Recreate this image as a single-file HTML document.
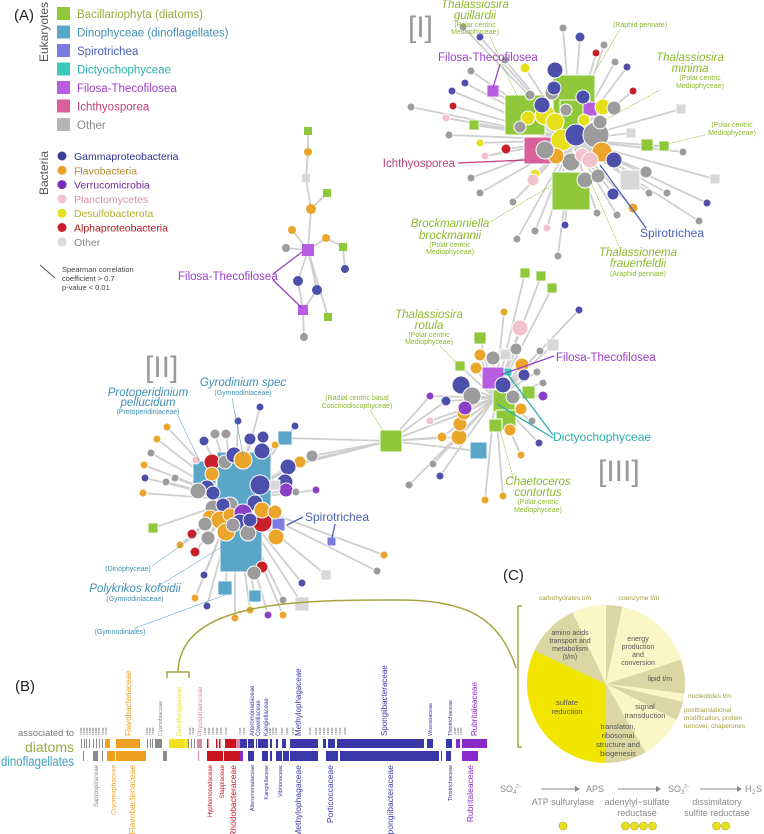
<!DOCTYPE html>
<html><head><meta charset="utf-8">
<style>
html,body{margin:0;padding:0;background:#fff;}
svg{display:block;font-family:"Liberation Sans",sans-serif;}
</style></head>
<body>
<svg id="fig" width="764" height="834" viewBox="0 0 764 834" xmlns="http://www.w3.org/2000/svg">
<g id="edges"></g>
<g id="hubs"></g>
<g id="nodes"></g>
<g id="annot"></g>
<g id="panelB"></g>
<g id="panelC"></g>
</svg>
<script>
const NS="http://www.w3.org/2000/svg";
const C={n:"#4d50aa",o:"#eba52b",p:"#8b3fc8",g:"#9c9c9c",k:"#f3c2cc",y:"#e6e01c",r:"#c8202a",l:"#d6d6d6",
G:"#8fc83a",B:"#5aa6c8",S:"#7b7be0",D:"#3cc8b8",F:"#b75ee0",I:"#d9609a",L:"#d8d8d8"};
function el(tag,attrs,parent){const e=document.createElementNS(NS,tag);for(const k in attrs)e.setAttribute(k,attrs[k]);parent.appendChild(e);return e;}
const E=document.getElementById('edges'),H=document.getElementById('hubs'),N=document.getElementById('nodes'),A=document.getElementById('annot');

const net1Center=[572,140];
const net1Leaves=[[463,27,4,'g'],[480,37,4,'n'],[563,28,4,'g'],[580,37,5,'n'],[604,45,4,'g'],[596,53,4,'r'],[615,62,4,'g'],[627,67,4,'n'],[525,68,5,'y'],[471,71,4,'g'],[465,83,4,'n'],[452,91,4,'n'],[411,107,4,'g'],[453,106,4,'r'],[446,118,4,'k'],[474,125,5,'G'],[449,135,4,'g'],[633,91,4,'r'],[681,109,5,'L'],[631,133,5,'L'],[647,145,6,'G'],[664,146,5,'G'],[683,152,4,'g'],[480,143,4,'y'],[506,149,5,'r'],[485,156,4,'k'],[471,178,4,'g'],[480,193,4,'g'],[535,174,5,'y'],[513,202,4,'g'],[535,231,4,'g'],[547,228,4,'k'],[565,225,4,'n'],[517,239,4,'g'],[558,256,4,'g'],[597,213,4,'g'],[617,215,4,'g'],[633,208,5,'o'],[613,194,6,'n'],[649,193,4,'g'],[667,193,4,'g'],[707,203,4,'n'],[699,221,4,'g'],[715,179,5,'L'],[646,172,6,'g'],[493,91,6,'F'],[530,95,5,'g'],[505,60,4,'g']];
const net1Hubs=[[505,95,40,'G'],[553,75,42,'G'],[560,100,30,'G'],[524,137,27,'I'],[552,172,38,'G'],[583,102,14,'F'],[620,170,20,'L']];
const net1Nodes=[[545,115,10,'y'],[555,122,9,'y'],[562,140,11,'y'],[576,135,11,'n'],[596,135,13,'g'],[602,152,10,'o'],[614,160,8,'n'],[571,162,9,'g'],[582,155,7,'k'],[556,156,8,'o'],[545,150,9,'g'],[542,105,8,'n'],[552,93,7,'g'],[583,97,7,'n'],[603,107,8,'y'],[614,108,7,'g'],[584,120,6,'y'],[600,122,7,'g'],[533,180,6,'k'],[585,180,8,'g'],[598,176,7,'g'],[554,88,7,'n'],[555,70,8,'n'],[528,118,7,'y'],[520,127,6,'g'],[590,160,8,'k'],[566,110,6,'g']];

const net2Center=[235,500];
const net2Leaves=[[167,427,4,'o'],[157,439,4,'o'],[151,453,4,'g'],[144,465,4,'o'],[145,478,4,'n'],[166,482,4,'g'],[143,493,4,'o'],[153,528,5,'G'],[192,534,5,'r'],[180,545,4,'o'],[195,552,5,'r'],[204,575,4,'n'],[195,598,4,'o'],[207,606,4,'n'],[260,407,4,'n'],[238,421,4,'n'],[215,434,5,'g'],[226,434,5,'g'],[204,441,5,'n'],[250,439,6,'n'],[263,437,6,'n'],[295,426,4,'n'],[285,438,7,'B'],[275,445,4,'o'],[312,456,6,'g'],[300,462,6,'o'],[288,467,8,'n'],[285,482,8,'n'],[286,490,7,'p'],[296,492,4,'g'],[316,490,4,'p'],[275,485,5,'L'],[326,575,5,'L'],[302,583,4,'n'],[283,600,4,'g'],[302,604,7,'L'],[283,615,4,'o'],[268,615,4,'p'],[225,588,7,'B'],[255,596,6,'B'],[235,618,4,'o'],[175,478,4,'g'],[196,460,4,'k'],[250,610,4,'o']];
const net2Hubs=[[217,452,54,'B'],[193,461,23,'B'],[220,530,42,'B'],[272,518,13,'S'],[327,537,9,'S']];
const net2Nodes=[[212,462,8,'r'],[225,462,7,'g'],[212,474,7,'o'],[207,488,8,'n'],[198,491,8,'g'],[234,455,8,'n'],[243,460,9,'o'],[262,451,8,'n'],[260,485,10,'n'],[255,503,8,'n'],[213,508,8,'g'],[230,505,8,'g'],[223,505,7,'n'],[210,518,8,'o'],[220,520,9,'o'],[230,515,7,'o'],[243,513,9,'p'],[240,522,8,'n'],[252,524,8,'n'],[262,522,10,'r'],[262,510,8,'o'],[275,512,7,'o'],[205,524,7,'g'],[208,538,7,'g'],[226,532,9,'o'],[233,525,7,'g'],[248,533,8,'g'],[250,520,7,'n'],[276,537,8,'o'],[262,567,6,'r'],[254,573,7,'g'],[384,555,4,'o'],[377,571,4,'g'],[213,493,7,'n']];

const net3Center=[495,398];
const net3Leaves=[[430,396,4,'p'],[446,401,5,'n'],[430,421,4,'k'],[442,437,5,'o'],[459,437,8,'o'],[460,424,7,'o'],[464,413,7,'o'],[433,464,4,'g'],[440,476,4,'n'],[409,485,4,'g'],[485,500,4,'o'],[503,496,4,'o'],[532,421,4,'g'],[539,443,4,'n'],[521,455,4,'o'],[525,273,5,'G'],[541,276,5,'G'],[552,288,5,'G'],[504,312,4,'o'],[579,310,4,'n'],[520,328,8,'k'],[553,345,6,'L'],[540,351,4,'g'],[480,338,6,'G'],[543,383,4,'g'],[543,396,5,'p'],[521,409,6,'o'],[510,430,6,'o'],[537,372,4,'g']];
const net3Hubs=[[482,367,22,'F'],[493,390,22,'G'],[496,410,20,'G'],[489,419,13,'G'],[470,442,17,'B'],[522,386,13,'G'],[500,349,11,'L'],[504,368,8,'D'],[380,430,22,'G']];
const net3Nodes=[[516,349,6,'g'],[480,355,6,'o'],[493,358,7,'g'],[476,368,6,'o'],[522,365,7,'o'],[524,375,6,'n'],[461,385,9,'n'],[472,396,9,'g'],[503,385,8,'n'],[513,397,7,'g'],[465,408,7,'p'],[460,366,5,'G']];

function drawNet(center,leaves,hubs,nodes,name){
  const gE=el('g',{},E);
  leaves.concat(nodes).forEach(d=>{
    el('line',{x1:d[0],y1:d[1],x2:center[0],y2:center[1],stroke:"#cfcfcf","stroke-width":1.8},gE);
  });
  hubs.forEach(h=>{
    const r=el('rect',{x:h[0],y:h[1],width:h[2],height:h[2],fill:C[h[3]],stroke:"#fff","stroke-width":1},H);
    
    
  });
  leaves.concat(nodes).forEach(d=>{
    let m;
    if(d[3]===d[3].toUpperCase()){
      m=el('rect',{x:d[0]-d[2],y:d[1]-d[2],width:2*d[2],height:2*d[2],fill:C[d[3]],stroke:"#fff","stroke-width":0.8},N);
    } else {
      m=el('circle',{cx:d[0],cy:d[1],r:d[2],fill:C[d[3]],stroke:"#fff","stroke-width":1},N);
    }
    
    
  });
}
[[300,462],[312,456],[288,467],[285,438]].forEach(p=>el('line',{x1:p[0],y1:p[1],x2:390,y2:441,stroke:"#cfcfcf","stroke-width":1.8},E));
[[430,396],[446,401],[442,437],[459,437],[464,413],[470,450]].forEach(p=>el('line',{x1:390,y1:441,x2:p[0],y2:p[1],stroke:"#cfcfcf","stroke-width":1.8},E));
drawNet(net1Center,net1Leaves,net1Hubs,net1Nodes,'network-1');
drawNet(net2Center,net2Leaves,net2Hubs,net2Nodes,'network-2');
drawNet(net3Center,net3Leaves,net3Hubs,net3Nodes,'network-3');

const smallNodes=[[308,131,4,'G'],[308,152,4,'o'],[306,178,4,'L'],[327,193,4,'G'],[311,209,5,'o'],[292,230,4,'o'],[326,238,4,'o'],[286,248,4,'g'],[308,250,6,'F'],[343,247,4,'G'],[345,269,4,'n'],[298,281,5,'n'],[317,290,5,'n'],[303,310,5,'F'],[328,317,4,'G'],[304,337,4,'g']];
const smallLinks=[[0,1],[1,2],[2,4],[3,4],[4,8],[8,5],[8,7],[8,6],[6,9],[9,10],[8,11],[8,12],[11,13],[12,13],[8,14],[13,15]];
smallLinks.forEach(l=>{const a=smallNodes[l[0]],b=smallNodes[l[1]];el('line',{x1:a[0],y1:a[1],x2:b[0],y2:b[1],stroke:"#cfcfcf","stroke-width":1.8},E);});
smallNodes.forEach(d=>{
  let m;
  if(d[3]===d[3].toUpperCase()) m=el('rect',{x:d[0]-d[2],y:d[1]-d[2],width:2*d[2],height:2*d[2],fill:C[d[3]]},N);
  else m=el('circle',{cx:d[0],cy:d[1],r:d[2],fill:C[d[3]]},N);
  
  
});
</script>

<script>
(function(){
const A=document.getElementById('annot');
const NS="http://www.w3.org/2000/svg";
function t(x,y,s,size,fill,opts){const e=document.createElementNS(NS,'text');e.setAttribute('x',x);e.setAttribute('y',y);e.setAttribute('font-size',size);e.setAttribute('fill',fill);
 if(opts){for(const k in opts)e.setAttribute(k,opts[k]);}e.textContent=s;A.appendChild(e);return e;}
function ln(x1,y1,x2,y2,c,w,dash){const e=document.createElementNS(NS,'line');e.setAttribute('x1',x1);e.setAttribute('y1',y1);e.setAttribute('x2',x2);e.setAttribute('y2',y2);e.setAttribute('stroke',c);e.setAttribute('stroke-width',w||1);if(dash)e.setAttribute('stroke-dasharray',dash);A.appendChild(e);return e;}
function r(x,y,w,h,f){const e=document.createElementNS(NS,'rect');e.setAttribute('x',x);e.setAttribute('y',y);e.setAttribute('width',w);e.setAttribute('height',h);e.setAttribute('fill',f);A.appendChild(e);return e;}
function c(x,y,rr,f){const e=document.createElementNS(NS,'circle');e.setAttribute('cx',x);e.setAttribute('cy',y);e.setAttribute('r',rr);e.setAttribute('fill',f);A.appendChild(e);return e;}
t(14,20,"(A)",15,"#222");
t(0,0,"Eukaryotes",12,"#555",{transform:"translate(48,62) rotate(-90)"});
const eu=[["Bacillariophyta (diatoms)","#8fc83a","#9aaa40"],["Dinophyceae (dinoflagellates)","#5aa6c8","#3f8fb5"],["Spirotrichea","#7b7be0","#4a5fb8"],["Dictyochophyceae","#3cc8b8","#2ab0a8"],["Filosa-Thecofilosea","#b75ee0","#9a40c8"],["Ichthyosporea","#d9609a","#c0407a"],["Other","#b5b5b5","#888"]];
eu.forEach((d,i)=>{const y=14+i*18.5;const s=r(57,y-7,13,13,d[1]);
 const tx=t(77,y+4,d[0],11.5,d[2]);});
t(0,0,"Bacteria",12,"#555",{transform:"translate(48,195) rotate(-90)"});
const ba=[["Gammaproteobacteria","#3b3f95","#2e3290"],["Flavobacteria","#e9a12a","#b58a30"],["Verrucomicrobia","#7a2ab8","#6a2a9a"],["Planctomycetes","#f3c2cc","#d890a8"],["Desulfobacterota","#e6e01c","#b5b030"],["Alphaproteobacteria","#c8202a","#b01820"],["Other","#dadada","#888"]];
ba.forEach((d,i)=>{const y=156+i*14.3;const s=c(62,y,4.5,d[1]);
 const tx=t(74,y+4,d[0],10.5,d[2]);});
ln(40,265,55,278,"#555",1);
t(62,272,"Spearman correlation",7.5,"#444");t(62,281,"coefficient > 0.7",7.5,"#444");t(62,290,"p-value < 0.01",7.5,"#444");

t(408,37,"[I]",30,"#999");
t(145,377,"[II]",30,"#999");
t(598,481,"[III]",30,"#999");
const G="#8db82c",Bl="#3f8fb5";
const mid={"text-anchor":"middle"}, it={"text-anchor":"middle","font-style":"italic"};
t(475,8,"Thalassiosira",11.5,G,it);t(475,19,"guillardii",11.5,G,it);t(475,27,"(Polar centric",7,G,mid);t(475,34,"Mediophyceae)",7,G,mid);
ln(490,37,517,96,G,0.7,"1.5,1");
t(640,27,"(Raphid pennate)",7,G,mid);ln(620,29,596,70,G,0.7,"1.5,1");
t(438,61,"Filosa-Thecofilosea",11.5,"#9a40c8");ln(500,64,493,88,"#9a40c8",1.3);
t(690,61,"Thalassiosira",11.5,G,it);t(690,72,"minima",11.5,G,it);t(700,80,"(Polar centric",7,G,mid);t(700,88,"Mediophyceae)",7,G,mid);ln(660,90,605,120,G,0.7,"1.5,1");
t(732,127,"(Polar centric",7,G,mid);t(732,135,"Mediophyceae)",7,G,mid);ln(705,135,650,148,G,0.7,"1.5,1");
t(455,167,"Ichthyosporea",11.5,"#c0407a",{"text-anchor":"end"});ln(458,163,526,160,"#c0407a",1.3);
t(450,227,"Brockmanniella",11.5,G,it);t(450,239,"brockmannii",11.5,G,it);t(450,247,"(Polar centric",7,G,mid);t(450,254,"Mediophyceae)",7,G,mid);ln(490,222,552,185,G,0.7,"1.5,1");
t(640,237,"Spirotrichea",12,"#4a5fb8");ln(646,228,600,165,"#4a5fb8",1.3);
t(638,256,"Thalassionema",11.5,G,it);t(638,267,"frauenfeldii",11.5,G,it);t(638,276,"(Araphid pennate)",7,G,mid);ln(620,248,590,180,G,0.7,"1.5,1");
t(178,280,"Filosa-Thecofilosea",11.5,"#9a40c8");ln(273,274,302,252,"#9a40c8",1.3);ln(273,280,302,308,"#9a40c8",1.3);
t(243,386,"Gyrodinium spec",11.5,Bl,it);t(243,395,"(Gymnodiniaceae)",7,Bl,mid);ln(232,398,243,455,Bl,0.5);
t(148,396,"Protoperidinium",11.5,Bl,it);t(148,406,"pellucidum",11.5,Bl,it);t(148,414,"(Protoperidiniaceae)",7,Bl,mid);ln(178,416,200,462,Bl,0.5);
t(357,400,"(Radial centric basal",7,G,mid);t(357,408,"Coscinodiscophyceae)",7,G,mid);ln(370,410,384,432,G,0.5);
t(305,521,"Spirotrichea",12,"#4a5fb8");ln(303,517,287,525,"#4a5fb8",1.3);ln(335,524,332,538,"#4a5fb8",1.3);
t(128,571,"(Dinophyceae)",7,Bl,mid);ln(152,566,200,532,Bl,0.5);
t(135,592,"Polykrikos kofoidii",11.5,Bl,it);t(135,601,"(Gymnodiniaceae)",7,Bl,mid);ln(160,585,225,545,Bl,0.5);
t(120,634,"(Gymnodiniales)",7,Bl,mid);ln(135,628,225,595,Bl,0.5);
t(429,318,"Thalassiosira",11.5,G,it);t(429,329,"rotula",11.5,G,it);t(429,337,"(Polar centric",7,G,mid);t(429,344,"Mediophyceae)",7,G,mid);ln(440,346,462,368,G,0.7,"1.5,1");
t(556,361,"Filosa-Thecofilosea",11.5,"#9a40c8");ln(554,356,500,375,"#9a40c8",1.3);
t(553,441,"Dictyochophyceae",12,"#2ab0a8");ln(553,435,506,372,"#2ab0a8",1.3);ln(553,438,497,404,"#2ab0a8",1.3);
t(538,485,"Chaetoceros",11.5,G,it);t(538,496,"contortus",11.5,G,it);t(538,504,"(Polar centric",7,G,mid);t(538,512,"Mediophyceae)",7,G,mid);ln(513,477,500,430,G,0.7,"1.5,1");
})();
</script>

<script>
const diatomStart=[81,84,86,89,93,96,99,102,105,116,147,150,152,155,169,186,188,191,194,197,207,216,219,225,229,236,240,243,248,256,258,270,276,282,290,323,328,337,340,427,446,456,462];
const diatomWidth=[1,1,1,1,1,1,1,1,5,24,1,1,1,7,16,2,1,1,1,5,1.5,1.5,1.5,4,7,4,3,4,6,1,10,2,2,4,28,3,7,3,84,6,6,4,25];
const diatomColor=["g","g","g","g","g","g","g","g","o","o","g","g","g","g","y","y","g","g","g","k","r","r","r","r","r","k","b","b","b","b","b","b","b","b","b","b","b","b","b","b","b","p","p"];
const dinoStart=[83,93,102,107,116,163,198,207,213,218,224,240,248,262,270,276,283,290,315,326,340,441,446,462];
const dinoWidth=[1,5,1,8,30,4,1,6,5,5,16,3,6,6,2,6,6,28,1,12,99,1,5,16];
const dinoColor=["g","g","g","o","o","g","k","r","r","r","r","p","b","b","b","b","b","b","b","b","b","b","b","p"];
const topLabels=["Flavobacteriaceae","Cyanobiaceae","Desulfocapsaceae","Phycisphaeraceae","Alteromonadaceae","Cowelliaceae","Kangiellaceae","Methylophagaceae","Spongiibacteraceae","Woeseiaceae","Thiotrichaceae","Rubritaleaceae"];
const topLabelX=[128,160,179,200,252,258,266,298,384,430,450,474];
const topLabelSize=[8,5.5,6,6,6,6,6,8,8,5.5,5.5,8];
const topLabelColor=["o","g","y","k","b","b","b","b","b","b","b","p"];
const botLabels=["Saprospiraceae","Cryomorphaceae","Flavobacteriaceae","Hyphomonadaceae","Stappiaceae","Rhodobacteraceae","Alteromonadaceae","Kangiellaceae","Vibrionaceae","Methylophagaceae","Porticoccaceae","Spongiibacteraceae","Thiotrichaceae","Rubritaleaceae"];
const botLabelX=[96,113,132,210,222,233,252,266,280,298,330,390,450,470];
const botLabelSize=[6,6.5,8.5,6,6,8.5,5.5,5.5,5.5,8.5,8.5,8.5,5.5,8.5];
const botLabelColor=["g","o","o","r","r","r","b","b","b","b","b","b","b","p"];
const pieLabels=["coenzyme t/m","energy production and conversion","lipid t/m","nucleotides t/m","posttranslational modification","signal transduction","translation","sulfate reduction","amino acids t/m","carbohydrates t/m"];
const pieValues=[12,60,25,6,14,33,30,115,40,25];
const pieColors=["t","l","t","l","t","l","t","y","t","l"];
const enzymeNames=["ATP sulfurylase","adenylyl-sulfate reductase","dissimilatory sulfite reductase"];
const enzymeCounts=[1,4,2];

(function(){
const NS="http://www.w3.org/2000/svg";
const PB=document.getElementById('panelB'),PC=document.getElementById('panelC');
const BC={g:"#8a8a8a",o:"#f0a020",y:"#f0e020",k:"#d88aa0",r:"#c8141e",b:"#3a38a8",p:"#8a2ac8"};
function mk(tag,attrs,p){const e=document.createElementNS(NS,tag);for(const k in attrs)e.setAttribute(k,attrs[k]);p.appendChild(e);return e;}
function tx(p,x,y,s,size,fill,extra){const e=mk('text',Object.assign({x:x,y:y,'font-size':size,fill:fill},extra||{}),p);e.textContent=s;return e;}
tx(PB,15,691,"(B)",15,"#222");
tx(PB,74,736,"associated to",9.5,"#777",{"text-anchor":"end"});
tx(PB,74,752,"diatoms",14,"#9aaa40",{"text-anchor":"end"});
tx(PB,1,766,"dinoflagellates",14,"#3f9fc0",{textLength:73,lengthAdjust:"spacingAndGlyphs"});
const yD=739,yN=751;
diatomStart.forEach((s,i)=>{const r=mk('rect',{x:s,y:yD,width:diatomWidth[i],height:9,fill:BC[diatomColor[i]]},PB);
 
 });
dinoStart.forEach((s,i)=>{const r=mk('rect',{x:s,y:yN,width:dinoWidth[i],height:10,fill:BC[dinoColor[i]]},PB);
 
 });
topLabels.forEach((s,i)=>{const e=tx(PB,0,0,s,topLabelSize[i],BC[topLabelColor[i]],{transform:`translate(${topLabelX[i]+topLabelSize[i]*0.35},736) rotate(-90)`});
 
 });
botLabels.forEach((s,i)=>{const e=tx(PB,0,0,s,botLabelSize[i],BC[botLabelColor[i]],{transform:`translate(${botLabelX[i]+botLabelSize[i]*0.35},765) rotate(-90)`,"text-anchor":"end"});
 
 });
[81,84,87,90,93,96,99,103,106,147,150,153,190,193,205,209,213,217,221,226,240,244,270,273,276,282,287,293,310,316,320,324,328,332,336,340,345,455,458,461].forEach(x=>{
  tx(PB,0,0,"ceae",3.5,"#666",{transform:`translate(${x+1},735) rotate(-90)`});
});
mk('path',{d:"M167,678 L167,672 L189,672 L189,678 M178,672 C180,600 300,600 400,600 C470,600 500,620 516,668",fill:"none",stroke:"#a5a540","stroke-width":1.5},PB);
mk('path',{d:"M522,606 L518,606 L518,747 L522,747",fill:"none",stroke:"#a5a540","stroke-width":1.5},PC);
tx(PC,503,580,"(C)",15,"#222");
const PCOL={t:"#dcd5a4",l:"#fbf6c6",y:"#f2e600"};
const cx=606,cy=684,R=79,total=pieValues.reduce((a,b)=>a+b,0);
let acc=0;
pieValues.forEach((v,i)=>{
 const a0=acc/total*2*Math.PI,a1=(acc+v)/total*2*Math.PI;acc+=v;
 const x0=cx+R*Math.sin(a0),y0=cy-R*Math.cos(a0),x1=cx+R*Math.sin(a1),y1=cy-R*Math.cos(a1);
 const p=mk('path',{d:`M${cx},${cy} L${x0},${y0} A${R},${R} 0 ${(a1-a0)>Math.PI?1:0} 1 ${x1},${y1} Z`,fill:PCOL[pieColors[i]]},PC);
 
 
});
const dk="#555",ol="#a0a040",m={"text-anchor":"middle"};
tx(PC,565,600,"carbohydrates t/m",6.5,ol,m);tx(PC,639,600,"coenzyme t/m",6.5,ol,m);
tx(PC,570,635,"amino acids",7,dk,m);tx(PC,570,643,"transport and",7,dk,m);tx(PC,570,651,"metabolism",7,dk,m);tx(PC,570,659,"(t/m)",7,dk,m);
tx(PC,638,641,"energy",7,dk,m);tx(PC,638,649,"production",7,dk,m);tx(PC,638,657,"and",7,dk,m);tx(PC,638,665,"conversion",7,dk,m);
tx(PC,660,681,"lipid t/m",7,dk,m);
tx(PC,567,705,"sulfate",7.5,dk,m);tx(PC,567,714,"reduction",7.5,dk,m);
tx(PC,688,698,"nucleotides t/m",6.5,ol);
tx(PC,645,709,"signal",7.5,dk,m);tx(PC,645,718,"transduction",7.5,dk,m);
tx(PC,684,712,"posttranslational",6.5,ol);tx(PC,684,720,"modification, protein",6.5,ol);tx(PC,684,728,"turnover, chaperones",6.5,ol);
tx(PC,618,729,"translaton,",7.5,dk,m);tx(PC,618,738,"ribosomal",7.5,dk,m);tx(PC,618,747,"structure and",7.5,dk,m);tx(PC,618,756,"biogenesis",7.5,dk,m);
const gr="#888";
tx(PC,500,792,"SO",9,gr);tx(PC,513,794,"4",6,gr);tx(PC,516,788,"2−",5,gr);
tx(PC,586,792,"APS",9,gr);
tx(PC,668,792,"SO",9,gr);tx(PC,681,794,"3",6,gr);tx(PC,684,788,"2−",5,gr);
tx(PC,745,792,"H",9,gr);tx(PC,752,794,"2",6,gr);tx(PC,756,792,"S",9,gr);
[[541,580],[618,661],[700,742]].forEach(a=>{mk('line',{x1:a[0],y1:789,x2:a[1]-4,y2:789,stroke:gr,"stroke-width":1},PC);mk('path',{d:`M${a[1]-5},786 L${a[1]},789 L${a[1]-5},792 Z`,fill:gr},PC);});
tx(PC,563,805,"ATP sulfurylase",9,gr,m);
tx(PC,637,805,"adenylyl−sulfate",9,gr,m);tx(PC,637,816,"reductase",9,gr,m);
tx(PC,717,805,"dissimilatory",9,gr,m);tx(PC,717,816,"sulfite reductase",9,gr,m);
const ecx=[563,639,721];
enzymeCounts.forEach((n,i)=>{for(let k=0;k<n;k++){const x=ecx[i]+(k-(n-1)/2)*9;
 const cc=mk('circle',{cx:x,cy:826,r:4,fill:"#e6e01c",stroke:"#b0a820","stroke-width":0.6},PC);
 
 }});
})();
</script>
</body></html>
